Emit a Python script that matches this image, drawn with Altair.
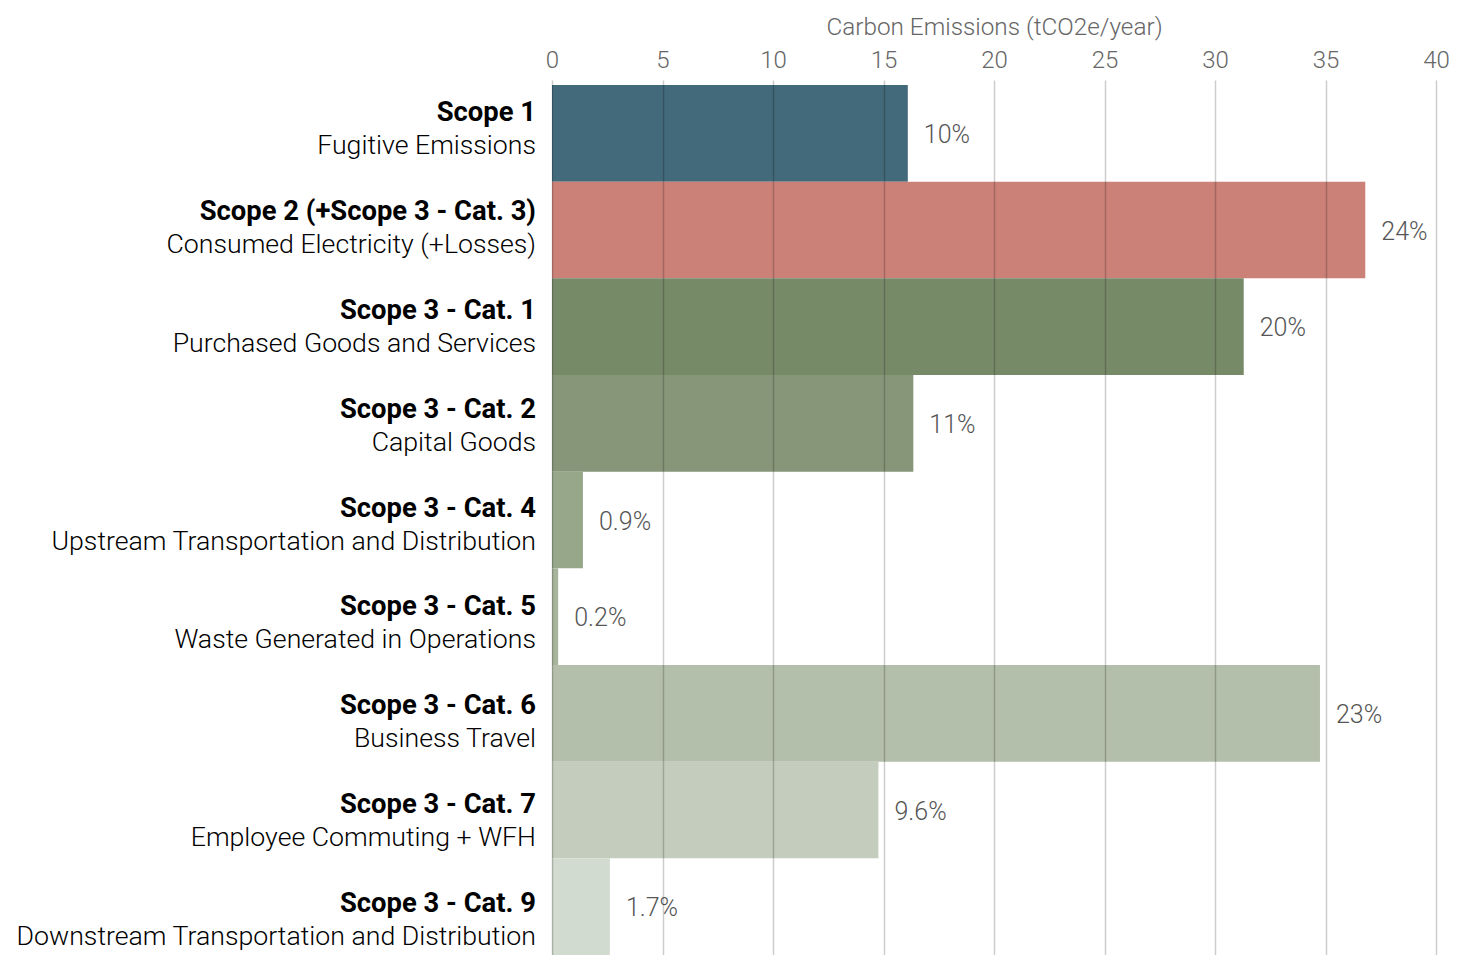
import altair as alt
import pandas as pd

scopes = ["Scope 1", "Scope 2 (+Scope 3 - Cat. 3)", "Scope 3 - Cat. 1", "Scope 3 - Cat. 2",
          "Scope 3 - Cat. 4", "Scope 3 - Cat. 5", "Scope 3 - Cat. 6", "Scope 3 - Cat. 7",
          "Scope 3 - Cat. 9"]
descriptions = ["Fugitive Emissions", "Consumed Electricity (+Losses)",
                "Purchased Goods and Services", "Capital Goods",
                "Upstream Transportation and Distribution", "Waste Generated in Operations",
                "Business Travel", "Employee Commuting + WFH",
                "Downstream Transportation and Distribution"]
emissions = [16.1, 36.8, 31.3, 16.35, 1.4, 0.28, 34.75, 14.77, 2.62]
shares = ["10%", "24%", "20%", "11%", "0.9%", "0.2%", "23%", "9.6%", "1.7%"]
colors = ["#436a7a", "#cb8178", "#778a68", "#879679", "#97a78a", "#a5b49a",
          "#b4bfab", "#c4cdbd", "#d2dbcf"]
ticks = [0, 5, 10, 15, 20, 25, 30, 35, 40]

df = pd.DataFrame({
    "scope": scopes,
    "desc": descriptions,
    "value": emissions,
    "share": shares,
    "row": list(range(len(scopes))),
})

x_enc = alt.X(
    "value:Q",
    scale=alt.Scale(domain=[0, 40], nice=False),
    axis=alt.Axis(
        orient="top", values=ticks, grid=True,
        gridColor="#000", gridOpacity=0.2, gridWidth=1.5,
        tickColor="#000", tickOpacity=0.2, tickWidth=1.5, tickSize=5,
        domain=False, labelFontSize=24, labelColor="#666", labelPadding=8,
        labelFont="Roboto", labelFontWeight=300, labelFlush=False,
        title="Carbon Emissions (tCO2e/year)", titleFontSize=24.3, titleColor="#666",
        titleFont="Roboto", titleFontWeight=300, titlePadding=9, zindex=1,
    ),
)
y_band = alt.Y("scope:N", sort=scopes,
               scale=alt.Scale(paddingInner=0, paddingOuter=0), axis=None)

bars = alt.Chart(df).mark_bar().encode(
    x=x_enc,
    y=y_band,
    color=alt.Color("scope:N", scale=alt.Scale(domain=scopes, range=colors), legend=None),
)

pct = alt.Chart(df).mark_text(
    align="left", baseline="middle", dx=16, dy=1.5, fontSize=25,
    color="#555", font="Roboto", fontWeight=300,
).encode(
    x="value:Q",
    y=y_band,
    text="share:N",
)

y_lab = alt.Y("row:Q", scale=alt.Scale(domain=[-0.283, 8.514], reverse=True,
                                       nice=False, zero=False), axis=None)

bold = alt.Chart(df).mark_text(
    align="right", baseline="middle", fontSize=27.4, fontWeight="bold",
    color="#000", font="Roboto",
).encode(x=alt.value(-16), y=y_lab, text="scope:N")

reg = alt.Chart(df).mark_text(
    align="right", baseline="middle", dy=33, fontSize=26.7, fontWeight=300,
    color="#000", font="Roboto",
).encode(x=alt.value(-16), y=y_lab, text="desc:N")

chart = alt.layer(bars, pct, bold, reg).resolve_scale(y="independent").properties(
    width=884, height=870,
    autosize=alt.AutoSizeParams(type="none"),
    padding={"left": 544, "top": 77, "right": 14, "bottom": 0},
    background="white",
).configure_view(stroke=None)

chart.save("out.html", embed_options={"renderer": "svg", "actions": False})
